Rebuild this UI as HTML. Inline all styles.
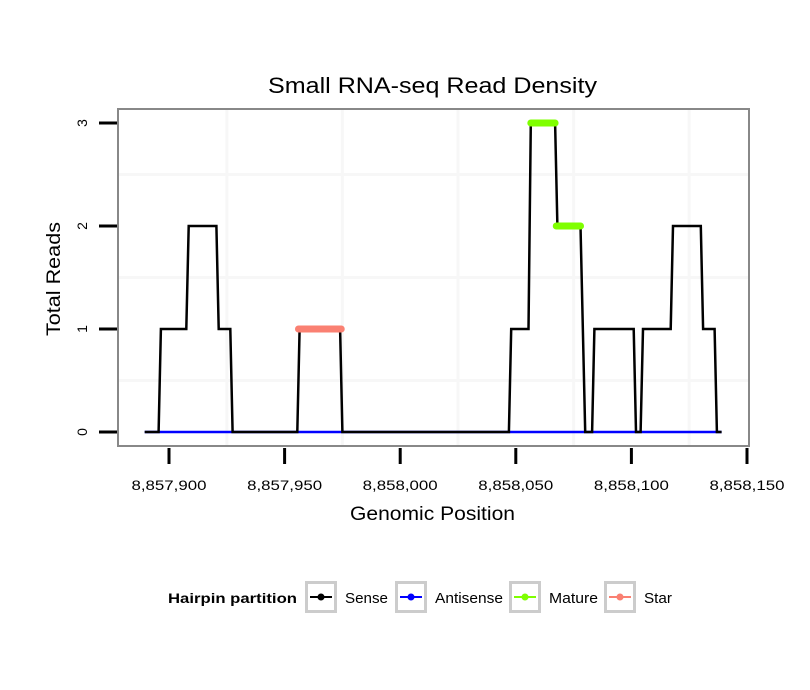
<!DOCTYPE html>
<html><head><meta charset="utf-8"><style>
body{margin:0;background:#fff;}
svg{display:block;font-family:"Liberation Sans",sans-serif;}
</style></head><body>
<svg id="chart" width="810" height="690">
<rect width="810" height="690" fill="#fff"/>
<text x="268" y="93" font-size="22" textLength="329" lengthAdjust="spacingAndGlyphs" fill="#000">Small RNA-seq Read Density</text>
<g id="grid"></g>
<g id="series"></g>
<rect x="118" y="109" width="631" height="337" fill="none" stroke="#888" stroke-width="2"/>
<g id="axes"></g>
<text x="350" y="520" font-size="19" textLength="165" lengthAdjust="spacingAndGlyphs">Genomic Position</text>
<text transform="translate(60,336) rotate(-90)" font-size="19" textLength="114" lengthAdjust="spacingAndGlyphs">Total Reads</text>
<g>
<text x="168" y="603" font-size="14" font-weight="bold" textLength="129" lengthAdjust="spacingAndGlyphs">Hairpin partition</text>
<g id="legend"></g>
</g>
</svg>
<script>
const xTicks=[8857900,8857950,8858000,8858050,8858100,8858150];
const xTickLabels=["8,857,900","8,857,950","8,858,000","8,858,050","8,858,100","8,858,150"];
const yTicks=[0,1,2,3];
const sensePos=[8857889.5,8857895.5,8857896.5,8857907.5,8857908.5,8857920.5,8857921.5,8857926.5,8857927.5,8857955.5,8857956.5,8857974,8857975,8858047,8858048,8858055.5,8858056.5,8858067,8858068,8858078,8858080,8858083,8858084,8858101,8858102,8858104,8858105,8858117,8858118,8858130,8858131,8858136,8858137,8858139];
const senseVal=[0,0,1,1,2,2,1,1,0,0,1,1,0,0,1,1,3,3,2,2,0,0,1,1,0,0,1,1,2,2,1,1,0,0];
const antisensePos=[8857889.5,8858139];
const antisenseVal=[0,0];
const matureStart=[8858056.5,8858067.5];
const matureEnd=[8858067,8858078];
const matureVal=[3,2];
const starStart=[8857956];
const starEnd=[8857974.5];
const starVal=[1];
const legendNames=["Sense","Antisense","Mature","Star"];
const legendColors=["#000000","#0000ff","#7fff00","#fa8072"];
const legendLabelWidths=[43,68,49,28];

const NS="http://www.w3.org/2000/svg";
function X(v){return 169+(v-8857900)*(578/250);}
function Y(v){return 432-v*103;}
function mk(tag,attrs,parent){const e=document.createElementNS(NS,tag);for(const k in attrs)e.setAttribute(k,attrs[k]);parent.appendChild(e);return e;}
const grid=document.getElementById('grid'),axes=document.getElementById('axes'),series=document.getElementById('series'),legend=document.getElementById('legend');
for(let i=0;i<xTicks.length-1;i++){
  const xm=X(xTicks[i]+25);
  const g=mk('line',{x1:xm,x2:xm,y1:109,y2:446,stroke:'#f7f7f7','stroke-width':3},grid);
  
  
}
for(let i=0;i<yTicks.length-1;i++){
  const ym=Y(yTicks[i]+0.5);
  const g=mk('line',{x1:118,x2:749,y1:ym,y2:ym,stroke:'#f7f7f7','stroke-width':3},grid);
  
  
}
for(let i=0;i<xTicks.length;i++){
  const x=X(xTicks[i]);
  const t=mk('line',{x1:x,x2:x,y1:448,y2:464,stroke:'#000','stroke-width':3},axes);
  
  
  const l=mk('text',{x:x-37.5,y:490,'font-size':14,textLength:75,lengthAdjust:'spacingAndGlyphs'},axes);
  l.textContent=xTickLabels[i];
  
  
}
for(let i=0;i<yTicks.length;i++){
  const y=Y(yTicks[i]);
  const t=mk('line',{x1:99,x2:117,y1:y,y2:y,stroke:'#000','stroke-width':3},axes);
  
  
  const l=mk('text',{transform:`translate(87,${y}) rotate(-90)`,'font-size':14,'text-anchor':'middle'},axes);
  l.textContent=String(yTicks[i]);
  
  
}
function pts(p,v){return p.map((x,i)=>X(x).toFixed(1)+','+Y(v[i]).toFixed(1)).join(' ');}
const a=mk('polyline',{points:pts(antisensePos,antisenseVal),fill:'none',stroke:'#0000ff','stroke-width':2.5},series);


const s=mk('polyline',{points:pts(sensePos,senseVal),fill:'none',stroke:'#000','stroke-width':2.5},series);


for(let i=0;i<starStart.length;i++){
  const e=mk('line',{x1:X(starStart[i]),x2:X(starEnd[i]),y1:Y(starVal[i]),y2:Y(starVal[i]),stroke:'#fa8072','stroke-width':7,'stroke-linecap':'round'},series);
  
  
}
for(let i=0;i<matureStart.length;i++){
  const e=mk('line',{x1:X(matureStart[i]),x2:X(matureEnd[i]),y1:Y(matureVal[i]),y2:Y(matureVal[i]),stroke:'#7fff00','stroke-width':7,'stroke-linecap':'round'},series);
  
  
}
const boxX=[305,395,509,604];
for(let i=0;i<legendNames.length;i++){
  const g=mk('g',{},legend);
  
  
  const bx=boxX[i];
  mk('rect',{x:bx+1.5,y:582.5,width:29,height:29,fill:'#fff',stroke:'#cccccc','stroke-width':3},g);
  mk('line',{x1:bx+5,x2:bx+27,y1:597,y2:597,stroke:legendColors[i],'stroke-width':2},g);
  mk('circle',{cx:bx+16,cy:597,r:3.5,fill:legendColors[i]},g);
  const t=mk('text',{x:bx+40,y:603,'font-size':15,textLength:legendLabelWidths[i],lengthAdjust:'spacingAndGlyphs'},g);
  t.textContent=legendNames[i];
}
</script>
</body></html>
